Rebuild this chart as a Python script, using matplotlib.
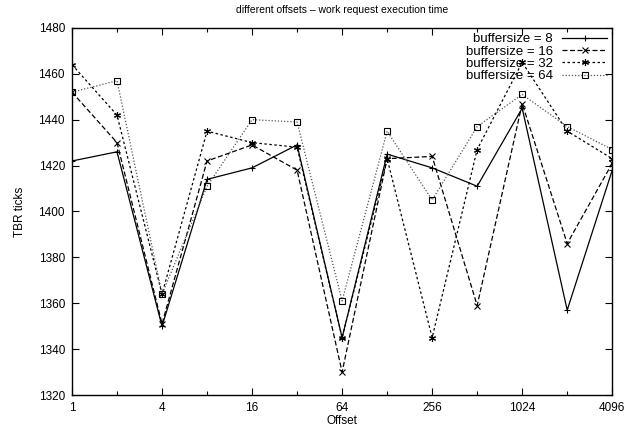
import matplotlib
matplotlib.use('Agg')
import matplotlib.pyplot as plt

plt.rcParams['font.family'] = ['Liberation Sans', 'DejaVu Sans']

offsets = [1, 2, 4, 8, 16, 32, 64, 128, 256, 512, 1024, 2048, 4096]
bs8 = [1422, 1426, 1350, 1414, 1419, 1429, 1345, 1425, 1419, 1411, 1445, 1357, 1418]
bs16 = [1452, 1430, 1351, 1422, 1429, 1418, 1330, 1423, 1424, 1359, 1447, 1386, 1421]
bs32 = [1464, 1442, 1364, 1435, 1430, 1428, 1345, 1423, 1345, 1427, 1465, 1435, 1423]
bs64 = [1452, 1457, 1364, 1411, 1440, 1439, 1361, 1435, 1405, 1437, 1451, 1437, 1427]
labels = ['buffersize = 8', 'buffersize = 16', 'buffersize = 32', 'buffersize = 64']
xticks = [1, 4, 16, 64, 256, 1024, 4096]

fig = plt.figure(figsize=(6.26, 4.36), dpi=100)
ax = fig.add_axes([0.115, 0.094, 0.863, 0.842])

star = (6, 2, 0)
ax.plot(offsets, bs8, color='black', lw=0.9, ls='-', marker='+', ms=5, mew=0.8, label=labels[0])
ax.plot(offsets, bs16, color='black', lw=0.9, ls=(0, (4, 2)), marker='x', ms=4, mew=0.8, label=labels[1])
ax.plot(offsets, bs32, color='black', lw=0.9, ls=(0, (2, 2)), marker=star, ms=5, mew=0.8, label=labels[2])
ax.plot(offsets, bs64, color='#555555', lw=0.9, ls=(0, (1, 1.5)), marker='s', ms=4.5, mew=0.8,
        mfc='none', mec='black', label=labels[3])

ax.set_xscale('log', base=2)
ax.set_xlim(1, 4096)
ax.set_ylim(1320, 1480)
ax.set_xticks(xticks)
ax.set_xticklabels([str(t) for t in xticks])
ax.set_xticks([2, 8, 32, 128, 512, 2048], minor=True)
ax.set_yticks(range(1320, 1481, 20))
ax.tick_params(which='both', direction='in', top=True, right=True, labelsize=8.5, width=0.8)
ax.tick_params(which='major', length=5, pad=5)
ax.tick_params(which='minor', length=3, labelbottom=False)
for s in ax.spines.values():
    s.set_linewidth(1.0)

ax.set_xlabel('Offset', fontsize=8.5, labelpad=1)
ax.set_ylabel('TBR ticks', fontsize=8.5, labelpad=9)
ax.set_title('different offsets \u2013 work request execution time', fontsize=7.5, pad=11)

leg = ax.legend(loc='upper right', frameon=False, fontsize=9.5, markerfirst=False,
                handlelength=3.4, handletextpad=0.7, labelspacing=0.0,
                borderaxespad=0.2, borderpad=0.2)
for t in leg.get_texts():
    t.set_ha('right')
leg._legend_box.align = 'right'

fig.savefig('out.png', dpi=100)
